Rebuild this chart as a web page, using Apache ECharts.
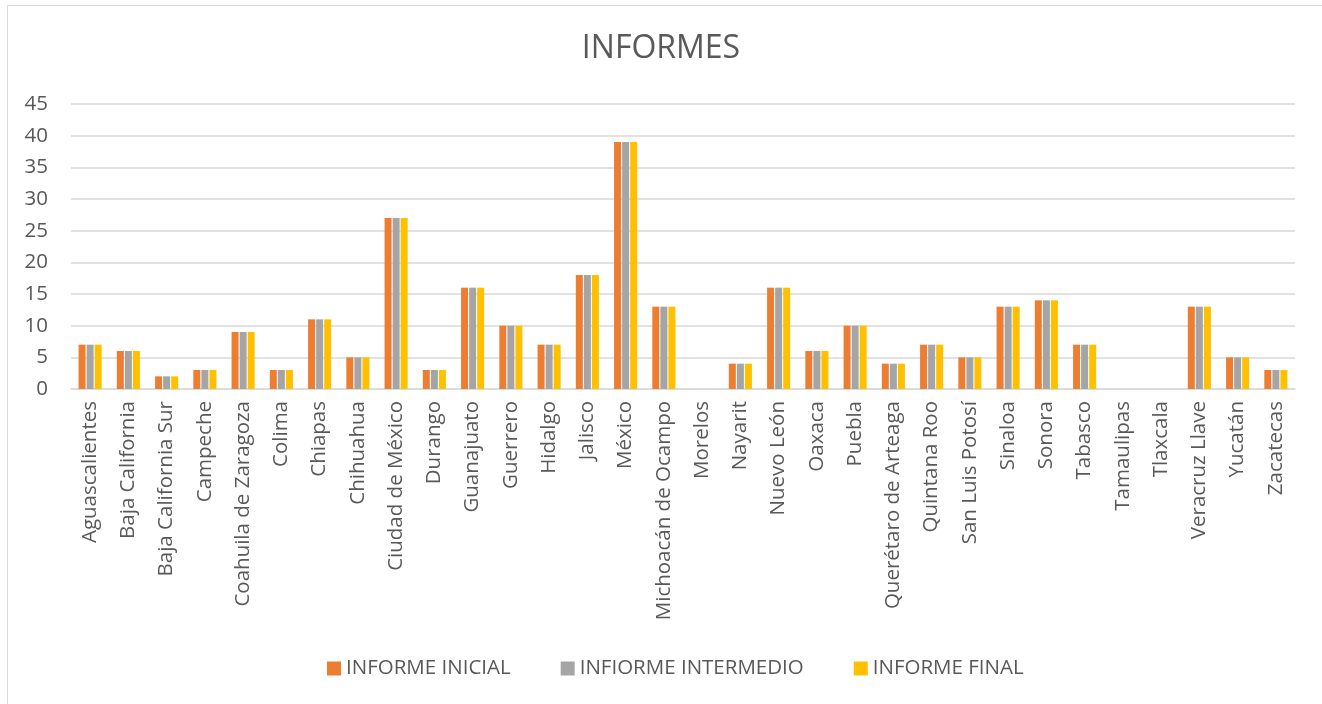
<!DOCTYPE html>
<html>
<head>
<meta charset="utf-8">
<script src="https://cdn.jsdelivr.net/npm/echarts@6/dist/echarts.min.js"></script>
<style>
html,body{margin:0;padding:0;background:#fff;}
#chart{width:1322px;height:704px;}
</style>
</head>
<body>
<div id="chart"></div>
<script>
const categories = ["Aguascalientes","Baja California","Baja California Sur","Campeche","Coahuila de Zaragoza","Colima","Chiapas","Chihuahua","Ciudad de México","Durango","Guanajuato","Guerrero","Hidalgo","Jalisco","México","Michoacán de Ocampo","Morelos","Nayarit","Nuevo León","Oaxaca","Puebla","Querétaro de Arteaga","Quintana Roo","San Luis Potosí","Sinaloa","Sonora","Tabasco","Tamaulipas","Tlaxcala","Veracruz Llave","Yucatán","Zacatecas"];
const informeInicial =    [7,6,2,3,9,3,11,5,27,3,16,10,7,18,39,13,0,4,16,6,10,4,7,5,13,14,7,0,0,13,5,3];
const informeIntermedio = [7,6,2,3,9,3,11,5,27,3,16,10,7,18,39,13,0,4,16,6,10,4,7,5,13,14,7,0,0,13,5,3];
const informeFinal =      [7,6,2,3,9,3,11,5,27,3,16,10,7,18,39,13,0,4,16,6,10,4,7,5,13,14,7,0,0,13,5,3];
const seriesNames = ["INFORME INICIAL","INFIORME INTERMEDIO","INFORME FINAL"];
const colors = ["#ED7D31","#A5A5A5","#FFC000"];

const chart = echarts.init(document.getElementById('chart'));
const font = "'Open Sans', 'Noto Sans', sans-serif";
const mk = (name, data, color) => ({
  name, type: 'bar', data, barWidth: 7, barGap: '15%',
  itemStyle: { color }
});
chart.setOption({
  animation: false,
  backgroundColor: '#fff',
  textStyle: { fontFamily: font },
  graphic: [{
    type: 'rect', shape: { x: 7.5, y: 5.5, width: 1330, height: 720 },
    style: { fill: 'none', stroke: '#d9d9d9', lineWidth: 1 }, silent: true
  }],
  title: {
    text: 'INFORMES', left: 'center', top: 28,
    textStyle: { fontSize: 32, fontWeight: 'normal', color: '#595959', fontFamily: font }
  },
  legend: {
    bottom: 20, left: 322, itemWidth: 14, itemHeight: 14, itemGap: 50,
    icon: 'rect',
    textStyle: { fontSize: 20.5, color: '#595959', fontFamily: font }
  },
  grid: { left: 71, right: 27, top: 104, bottom: 315, containLabel: false },
  xAxis: {
    type: 'category', data: categories,
    axisLine: { lineStyle: { color: '#d9d9d9', width: 1.5 } },
    axisTick: { show: false },
    axisLabel: { rotate: 90, interval: 0, fontSize: 20.5, color: '#595959', margin: 12, fontFamily: font }
  },
  yAxis: {
    type: 'value', min: 0, max: 45, interval: 5,
    axisLine: { show: false }, axisTick: { show: false },
    splitLine: { lineStyle: { color: '#d9d9d9', width: 1.5 } },
    axisLabel: { fontSize: 20.5, color: '#595959', margin: 23, fontFamily: font }
  },
  series: [
    mk(seriesNames[0], informeInicial, colors[0]),
    mk(seriesNames[1], informeIntermedio, colors[1]),
    mk(seriesNames[2], informeFinal, colors[2])
  ]
});
</script>
</body>
</html>
